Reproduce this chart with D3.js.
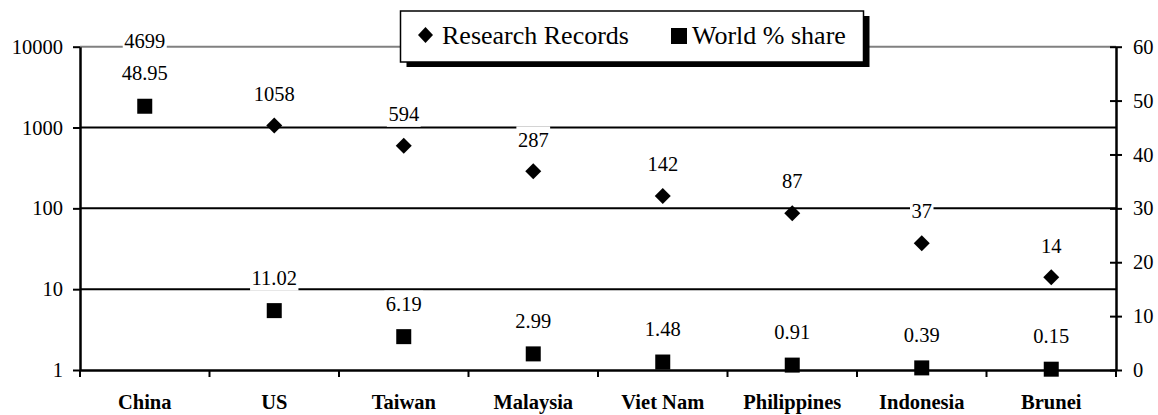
<!DOCTYPE html>
<html>
<head>
<meta charset="utf-8">
<script src="https://cdn.jsdelivr.net/npm/d3@7"></script>
<style>
  html, body { margin: 0; padding: 0; background: #fff; }
  svg { display: block; }
  text { font-family: "Liberation Serif", "Times New Roman", serif; fill: #000; }
</style>
</head>
<body>
<svg id="chart" width="1158" height="415"></svg>
<script>
// Countries and their values
const countries = ["China", "US", "Taiwan", "Malaysia", "Viet Nam", "Philippines", "Indonesia", "Brunei"];
const researchRecords = [4699, 1058, 594, 287, 142, 87, 37, 14];
const worldShare = [48.95, 11.02, 6.19, 2.99, 1.48, 0.91, 0.39, 0.15];
const recordTicks = [1, 10, 100, 1000, 10000];
const shareTicks = [0, 10, 20, 30, 40, 50, 60];

const W = 1158, H = 415;
const plot = { left: 80, right: 1116, top: 46.7, bottom: 370 };

const svg = d3.select("#chart");

const x = d3.scaleBand().domain(countries).range([plot.left, plot.right]).padding(0);
const yLog = d3.scaleLog().domain([1, 10000]).range([plot.bottom, plot.top]);
const yLin = d3.scaleLinear().domain([0, 60]).range([plot.bottom, plot.top]);

// Horizontal gridlines on the log axis
svg.append("g")
  .selectAll("line")
  .data(recordTicks.filter(d => d > 1))
  .join("line")
  .attr("x1", plot.left).attr("x2", plot.right)
  .attr("y1", d => yLog(d)).attr("y2", d => yLog(d))
  .attr("stroke", d => d === 10000 ? "#808080" : "#000")
  .attr("stroke-width", 2);

// Left axis (log scale)
const leftAxis = svg.append("g")
  .attr("transform", `translate(${plot.left},0)`)
  .call(d3.axisLeft(yLog).tickValues(recordTicks).tickFormat(d3.format("d"))
    .tickSizeInner(7).tickSizeOuter(0).tickPadding(10));
leftAxis.select(".domain").attr("stroke-width", 2.5);
leftAxis.selectAll(".tick line").attr("stroke-width", 2);
leftAxis.selectAll(".tick text").style("font-size", "20.5px")
  .style("font-family", "'Liberation Serif', 'Times New Roman', serif");

// Right axis (linear scale), ticks cross the axis line
const rightAxis = svg.append("g")
  .attr("transform", `translate(${plot.right},0)`)
  .call(d3.axisRight(yLin).tickValues(shareTicks)
    .tickSizeInner(6).tickSizeOuter(0).tickPadding(11));
rightAxis.select(".domain").attr("stroke-width", 2.5);
rightAxis.selectAll(".tick line").attr("x1", -6).attr("x2", 6).attr("stroke-width", 2);
rightAxis.selectAll(".tick text").style("font-size", "20.5px")
  .style("font-family", "'Liberation Serif', 'Times New Roman', serif");

// Bottom category axis
const bottomAxis = svg.append("g")
  .attr("transform", `translate(0,${plot.bottom})`)
  .call(d3.axisBottom(x).tickSize(0).tickPadding(0));
bottomAxis.select(".domain").attr("stroke-width", 2.5);
bottomAxis.selectAll(".tick text")
  .attr("y", 32).attr("dy", "0.35em")
  .style("font-size", "20.5px").style("font-weight", "bold")
  .style("font-family", "'Liberation Serif', 'Times New Roman', serif");

// Category boundary tick marks
const bounds = countries.map(c => x(c)).concat([x.range()[1]]);
svg.append("g")
  .selectAll("line")
  .data(bounds)
  .join("line")
  .attr("x1", d => d).attr("x2", d => d)
  .attr("y1", plot.bottom).attr("y2", plot.bottom + 7)
  .attr("stroke", "#000").attr("stroke-width", 2);

const cx = c => x(c) + x.bandwidth() / 2;
const diamond = "M0,-8L8,0L0,8L-8,0Z";

// Markers
const marks = svg.append("g");
marks.selectAll("path.rr")
  .data(countries)
  .join("path")
  .attr("class", "rr")
  .attr("d", diamond)
  .attr("transform", (c, i) => `translate(${cx(c)},${yLog(researchRecords[i])})`)
  .attr("fill", "#000");
marks.selectAll("rect.ws")
  .data(countries)
  .join("rect")
  .attr("class", "ws")
  .attr("x", c => cx(c) - 7.5)
  .attr("y", (c, i) => yLin(worldShare[i]) - 7.5)
  .attr("width", 15).attr("height", 15)
  .attr("fill", "#000");

// Data labels with white backgrounds
const labels = [];
countries.forEach((c, i) => {
  labels.push({ x: cx(c), y: yLog(researchRecords[i]) - 32, text: String(researchRecords[i]) });
});
countries.forEach((c, i) => {
  labels.push({ x: cx(c), y: yLin(worldShare[i]) - 33, text: worldShare[i].toFixed(2) });
});

const labelG = svg.append("g");
labels.forEach(l => {
  const g = labelG.append("g");
  const rect = g.append("rect").attr("fill", "#fff");
  const t = g.append("text")
    .attr("x", l.x).attr("y", l.y).attr("dy", "0.35em")
    .attr("text-anchor", "middle")
    .style("font-size", "20.5px")
    .text(l.text);
  const bb = t.node().getBBox();
  rect.attr("x", bb.x - 1.5).attr("y", l.y - 13)
    .attr("width", bb.width + 3).attr("height", 26);
});

// Legend with drop shadow
const legend = svg.append("g");
const lg = { x: 400.5, y: 11, w: 463, h: 51 };
legend.append("rect")
  .attr("x", lg.x + 6).attr("y", lg.y + 5)
  .attr("width", lg.w).attr("height", lg.h)
  .attr("fill", "#000");
legend.append("rect")
  .attr("x", lg.x).attr("y", lg.y)
  .attr("width", lg.w).attr("height", lg.h)
  .attr("fill", "#fff").attr("stroke", "#000").attr("stroke-width", 1.5);
legend.append("path")
  .attr("d", "M0,-8L7.5,0L0,8L-7.5,0Z")
  .attr("transform", "translate(425.5,35)")
  .attr("fill", "#000");
legend.append("text")
  .attr("x", 442).attr("y", 44)
  .style("font-size", "26px")
  .text("Research Records");
legend.append("rect")
  .attr("x", 671).attr("y", 28)
  .attr("width", 16).attr("height", 16)
  .attr("fill", "#000");
legend.append("text")
  .attr("x", 692).attr("y", 44)
  .style("font-size", "26px")
  .text("World % share");
</script>
</body>
</html>
